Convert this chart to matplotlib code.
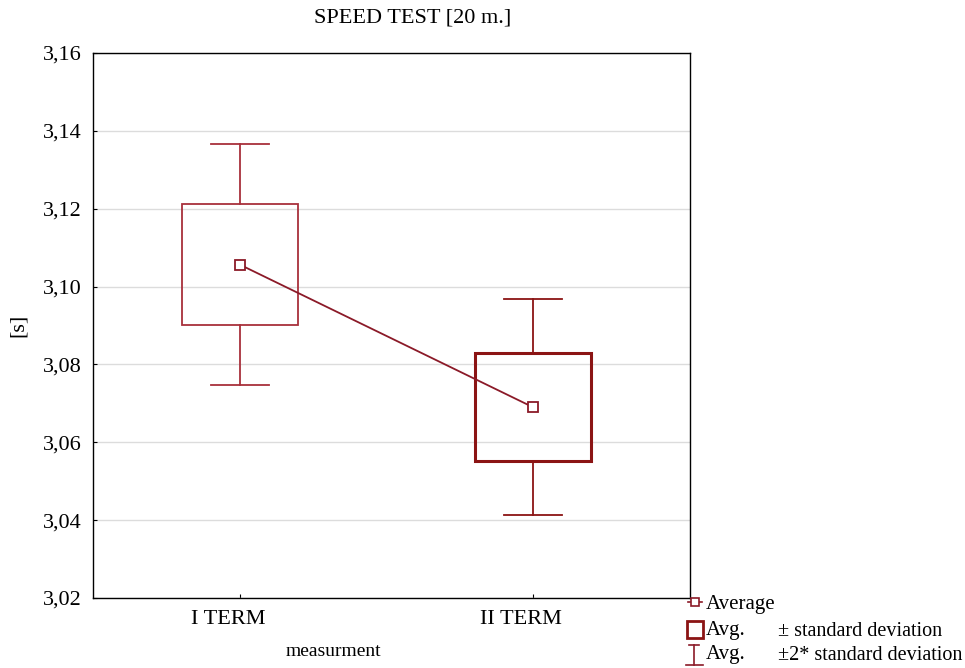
import numpy as np
import matplotlib.pyplot as plt
import matplotlib.transforms as mtransforms
from matplotlib.patches import Rectangle

plt.rcParams['font.family'] = ['Liberation Serif', 'DejaVu Serif']

# speed test results per measurement term
terms = ['I TERM', 'II TERM']
means = [3.1056, 3.0690]
sds = [0.0155, 0.0139]
box_colors = ['#a8303c', '#8b1414']
box_widths = [1.3, 2.2]

fig = plt.figure(figsize=(9.65, 6.68), dpi=100)
ax = fig.add_axes([0.0964, 0.1048, 0.6187, 0.8159])

x = np.arange(len(terms))
bw = 0.396
cap = 0.099
for xi, m, s, c, lw in zip(x, means, sds, box_colors, box_widths):
    # +/- sd box
    ax.add_patch(Rectangle((xi - bw / 2, m - s), bw, 2 * s, fill=False,
                           edgecolor=c, lw=lw, zorder=3))
    # +/- 2 sd whiskers
    ax.plot([xi, xi], [m + s, m + 2 * s], color=c, lw=1.3, zorder=3)
    ax.plot([xi, xi], [m - s, m - 2 * s], color=c, lw=1.3, zorder=3)
    ax.plot([xi - cap, xi + cap], [m + 2 * s] * 2, color=c, lw=1.3, zorder=3)
    ax.plot([xi - cap, xi + cap], [m - 2 * s] * 2, color=c, lw=1.3, zorder=3)

ax.plot(x, means, color='#8b1a28', lw=1.3, marker='s', ms=7.5,
        mfc='white', mec='#8b1a28', mew=1.3, zorder=4)

ax.set_xlim(-0.502, 1.536)
ax.set_ylim(3.02, 3.16)
yt = np.arange(3.02, 3.161, 0.02)
ax.set_yticks(yt)
ax.set_yticklabels([f'{v:.2f}'.replace('.', ',') for v in yt])
ax.set_xticks(x)
ax.set_xticklabels(terms)
ax.tick_params(direction='in', length=3, labelsize=16)
ax.tick_params(axis='y', pad=8)
ax.tick_params(axis='x', pad=9)
# category labels sit a little left of their ticks
shift = mtransforms.ScaledTranslation(-12 / 100, 0, fig.dpi_scale_trans)
for lab in ax.get_xticklabels():
    lab.set_transform(lab.get_transform() + shift)
ax.grid(axis='y', color='#dcdcdc', lw=1)
ax.set_axisbelow(True)
for sp in ax.spines.values():
    sp.set_linewidth(1.0)

fig.text(413 / 965, 1 - 18 / 668, 'SPEED TEST [20 m.]', fontsize=16,
         ha='center', va='center')
fig.text(18 / 965, 1 - 325 / 668, '[s]', fontsize=16, rotation=90,
         ha='center', va='center')
fig.text(333 / 965, 1 - 651 / 668, 'measurment', fontsize=14,
         ha='center', va='center')

# legend drawn in pixel units below the plot
lg = fig.add_axes([683 / 965, 0, 282 / 965, 78 / 668])
lg.set_xlim(0, 282)
lg.set_ylim(78, 0)
lg.axis('off')
red = '#8b1a28'
lg.plot([5, 19], [12, 12], color=red, lw=1.2)
lg.plot([12], [12], marker='s', ms=6, mfc='white', mec=red, mew=1.2)
lg.add_patch(Rectangle((4, 31), 16, 17, fill=False, edgecolor='#8b1414', lw=2))
lg.plot([11, 11], [55, 75], color=red, lw=1.2)
lg.plot([6, 16], [55, 55], color=red, lw=1.2)
lg.plot([3, 20], [75, 75], color=red, lw=1.2)
lg.text(23, 14, 'Average', fontsize=15, va='center')
lg.text(23, 41, 'Avg.', fontsize=15, va='center')
lg.text(95, 41, '± standard deviation', fontsize=14.5, va='center')
lg.text(23, 65, 'Avg.', fontsize=15, va='center')
lg.text(95, 65, '±2* standard deviation', fontsize=14.5, va='center')

fig.savefig('out.png', dpi=100)
